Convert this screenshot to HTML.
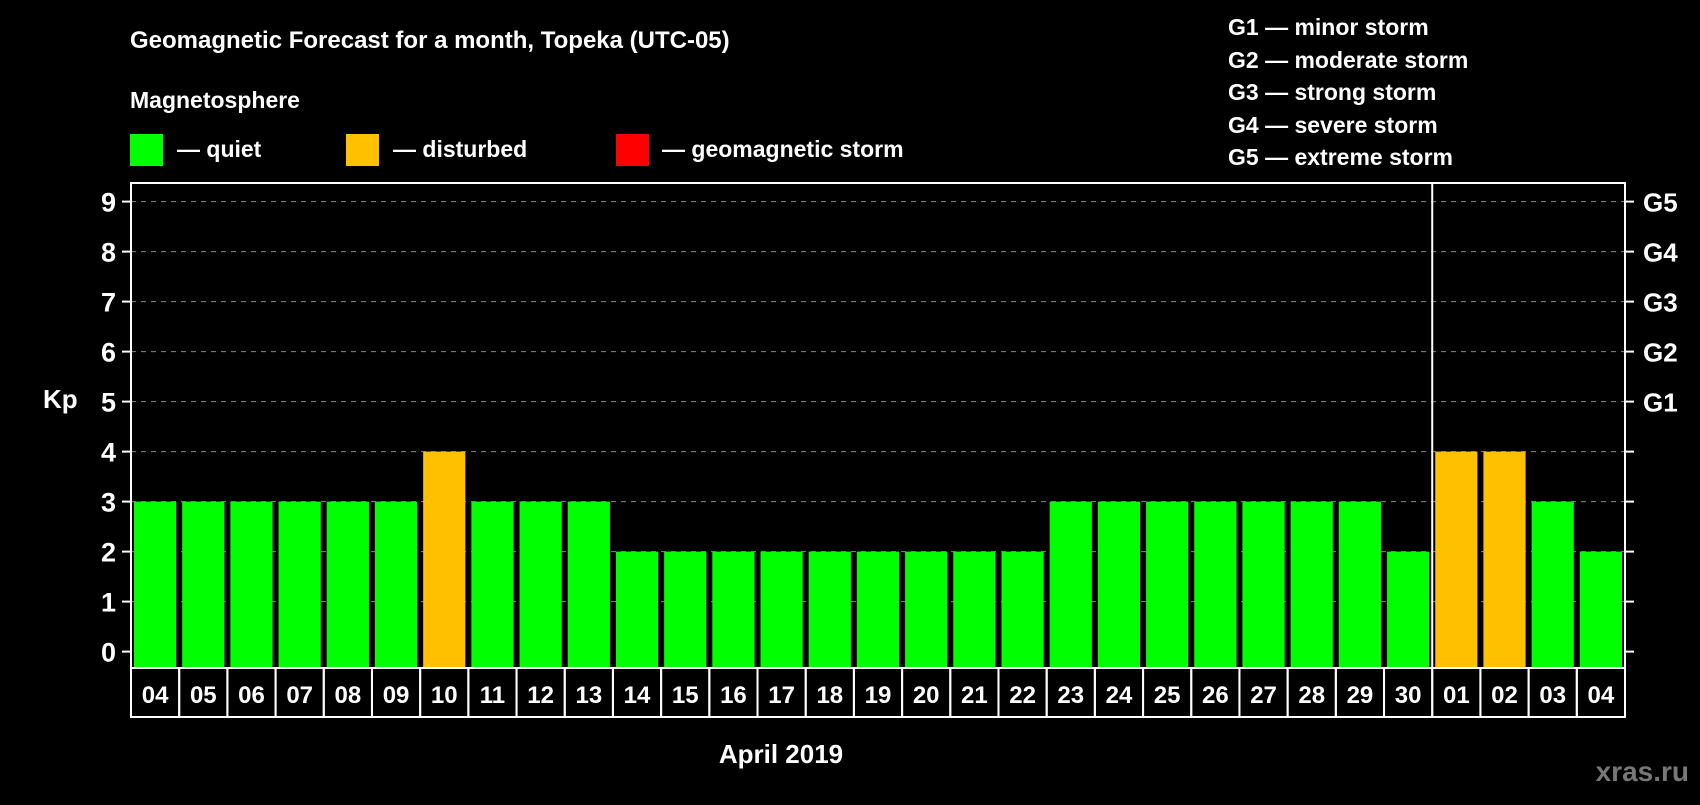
<!DOCTYPE html>
<html><head><meta charset="utf-8"><style>
body{margin:0;background:#000;width:1700px;height:800px;overflow:hidden;font-family:"Liberation Sans",sans-serif;}
svg text{font-family:"Liberation Sans",sans-serif;font-weight:bold;fill:#fff;}
</style></head><body>
<svg id="c" width="1700" height="800">
<text x="130" y="48" font-size="24">Geomagnetic Forecast for a month, Topeka (UTC-05)</text>
<text x="130" y="108" font-size="23">Magnetosphere</text>
<g><rect x="130" y="134" width="33" height="32" fill="#00ff00"/><text x="177" y="157" font-size="23">— quiet</text></g>
<g><rect x="346" y="134" width="33" height="32" fill="#ffc000"/><text x="393" y="157" font-size="23">— disturbed</text></g>
<g><rect x="616" y="134" width="33" height="32" fill="#ff0000"/><text x="662" y="157" font-size="23">— geomagnetic storm</text></g>
<g font-size="23">
<text x="1228" y="35">G1 — minor storm</text>
<text x="1228" y="68">G2 — moderate storm</text>
<text x="1228" y="100">G3 — strong storm</text>
<text x="1228" y="133">G4 — severe storm</text>
<text x="1228" y="165">G5 — extreme storm</text>
</g>
<text x="43" y="408" font-size="26">Kp</text>
<text x="781" y="763" font-size="26" text-anchor="middle">April 2019</text>
<text x="1689" y="781" font-size="28" text-anchor="end" style="fill:#777">xras.ru</text>
<g id="plot"></g>
</svg>
<script>
const days=["04","05","06","07","08","09","10","11","12","13","14","15","16","17","18","19","20","21","22","23","24","25","26","27","28","29","30","01","02","03","04"];
const kp=[3,3,3,3,3,3,4,3,3,3,2,2,2,2,2,2,2,2,2,3,3,3,3,3,3,3,2,4,4,3,2];
const yTicks=[0,1,2,3,4,5,6,7,8,9];
const gLabels=["","","","","","G1","G2","G3","G4","G5"];
const monthBreak=27;
const L=131,R=1625,T=183,B=668,slot=(R-L)/days.length;
const y=v=>651.6-v*50;
const x=i=>L+i*slot;
const ns="http://www.w3.org/2000/svg",g=document.getElementById('plot');
function mk(t,a){const e=document.createElementNS(ns,t);for(const k in a)e.setAttribute(k,a[k]);g.appendChild(e);return e;}
yTicks.forEach(v=>{
 if(v>0){const l=mk('line',{x1:L,x2:R,y1:y(v),y2:y(v),stroke:'#888','stroke-dasharray':'5,5'});
 
 }
 mk('line',{x1:L-9,x2:L,y1:y(v),y2:y(v),stroke:'#fff','stroke-width':2});
 mk('line',{x1:R,x2:R+9,y1:y(v),y2:y(v),stroke:'#fff','stroke-width':2});
 const t=mk('text',{x:116,y:y(v)+10,'font-size':27,'text-anchor':'end'});t.textContent=v;
 
 
 if(gLabels[v]){const r=mk('text',{x:1643,y:y(v)+10,'font-size':26});r.textContent=gLabels[v];
 
 }
});
kp.forEach((v,i)=>{
 const c=v>=5?'#ff0000':v>=4?'#ffc000':'#00ff00';
 const b=mk('rect',{x:x(i)+3,y:y(v),width:slot-6,height:B-y(v),fill:c});
 
 
 const cell=mk('rect',{x:x(i),y:B,width:slot,height:49,fill:'none',stroke:'#fff','stroke-width':2});
 
 
 const t=mk('text',{x:x(i)+slot/2,y:B+35,'font-size':24,'text-anchor':'middle'});t.textContent=days[i];
 
 
});
const f=mk('rect',{x:L,y:T,width:R-L,height:B-T,fill:'none',stroke:'#fff','stroke-width':2});


const mb=mk('line',{x1:x(monthBreak),x2:x(monthBreak),y1:T,y2:B,stroke:'#fff','stroke-width':2});


</script>
</body></html>
